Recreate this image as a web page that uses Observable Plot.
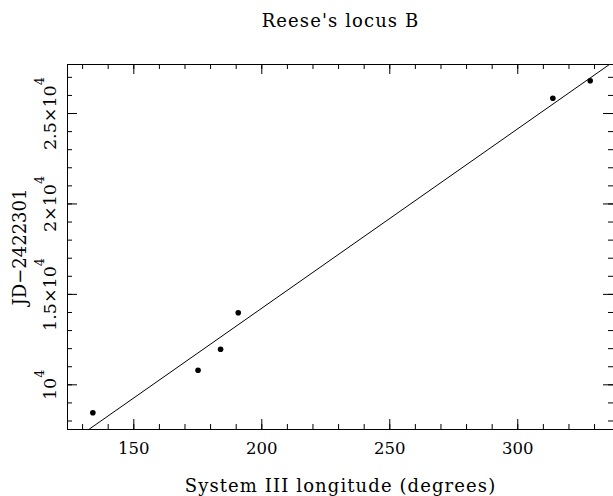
<!DOCTYPE html>
<html>
<head>
<meta charset="utf-8">
<script src="https://cdn.jsdelivr.net/npm/d3@7"></script>
<script src="https://cdn.jsdelivr.net/npm/@observablehq/plot@0.6"></script>
<style>
  html, body { margin: 0; padding: 0; background: #fff; }
  #chart svg { display: block; }
</style>
</head>
<body>
<div id="chart"></div>
<script>
// ---- data ----
const title = "Reese's locus B";
const xLabel = "System III longitude (degrees)";
const yLabel = "JD\u22122422301";

const longitude = [134.0, 175.1, 183.9, 190.8, 313.7, 328.3];
const jd = [8452, 10807, 11968, 13981, 25846, 26808];

// fitted line end points
const fitX = [132.4, 335.8];
const fitY = [7530, 27710];

const xDomain = [124.1, 337.4];
const yDomain = [7530, 27710];

const xMajor = [150, 200, 250, 300];
const xMajorLabels = ["150", "200", "250", "300"];
const xMinor = d3.range(130, 340, 10);
const yMajor = [10000, 15000, 20000, 25000];
const yMajorLabels = ["10^4", "1.5\u00d710^4", "2\u00d710^4", "2.5\u00d710^4"];
const yMinor = d3.range(8000, 28000, 1000);

// ---- layout ----
const W = 613, H = 496;
const mT = 64, mB = 67, mL = 67, mR = 0;
const fh = H - mT - mB, fw = W - mL - mR;

const points = longitude.map((x, i) => ({x, y: jd[i]}));
const fit = fitX.map((x, i) => ({x, y: fitY[i]}));

const font = "'DejaVu Serif', serif";

const chart = Plot.plot({
  width: W, height: H,
  marginTop: mT, marginBottom: mB, marginLeft: mL, marginRight: mR,
  style: {fontFamily: font, fontSize: "17px", color: "black", background: "white"},
  x: {domain: xDomain, axis: null},
  y: {domain: yDomain, axis: null},
  marks: [
    Plot.frame({stroke: "black", strokeWidth: 1}),
    // bottom ticks
    Plot.tickX(xMajor, {x: d => d, insetTop: fh - 10, stroke: "black"}),
    Plot.tickX(xMinor, {x: d => d, insetTop: fh - 5, stroke: "black"}),
    // top ticks
    Plot.tickX(xMajor, {x: d => d, insetBottom: fh - 10, stroke: "black"}),
    Plot.tickX(xMinor, {x: d => d, insetBottom: fh - 5, stroke: "black"}),
    // left ticks
    Plot.tickY(yMajor, {y: d => d, insetRight: fw - 10, stroke: "black"}),
    Plot.tickY(yMinor, {y: d => d, insetRight: fw - 5, stroke: "black"}),
    // right ticks
    Plot.tickY(yMajor, {y: d => d, insetLeft: fw - 10, stroke: "black"}),
    Plot.tickY(yMinor, {y: d => d, insetLeft: fw - 5, stroke: "black"}),
    // fit line
    Plot.line(fit, {x: "x", y: "y", stroke: "black", strokeWidth: 1}),
    // points
    Plot.dot(points, {x: "x", y: "y", r: 2.8, fill: "black", stroke: null}),
    // x tick labels
    Plot.text(xMajor, {x: d => d, text: (d, i) => xMajorLabels[i], frameAnchor: "bottom", lineAnchor: "bottom", dy: 24, fill: "black", fontSize: 16.5, fontFamily: font}),
    // y tick labels (rotated)
    Plot.text(yMajor, {y: d => d, text: (d, i) => yMajorLabels[i], frameAnchor: "left", lineAnchor: "bottom", rotate: -90, textAnchor: "middle", dx: -12, fill: "black", fontSize: 17.5, fontFamily: font}),
    // title
    Plot.text([title], {frameAnchor: "top", lineAnchor: "bottom", dy: -38, fill: "black", fontSize: 18, fontFamily: font}),
    // x axis label
    Plot.text([xLabel], {frameAnchor: "bottom", lineAnchor: "bottom", dy: 62, fill: "black", fontSize: 18, fontFamily: font}),
    // y axis label
    Plot.text([yLabel], {frameAnchor: "left", lineAnchor: "bottom", rotate: -90, textAnchor: "middle", dx: -42, fill: "black", fontSize: 18, fontFamily: font})
  ]
});

const svg = d3.select(chart);
// superscript exponents
svg.selectAll("text").each(function() {
  const t = d3.select(this);
  const s = t.text();
  if (s.includes("^")) {
    const parts = s.split("^");
    t.text(parts[0]);
    t.append("tspan").attr("dy", "-0.85em").attr("font-size", "13px").text(parts[1]);
  }
  if (s === title || s === xLabel) t.style("letter-spacing", "1.1px");
});

document.getElementById("chart").appendChild(chart);
</script>
</body>
</html>
